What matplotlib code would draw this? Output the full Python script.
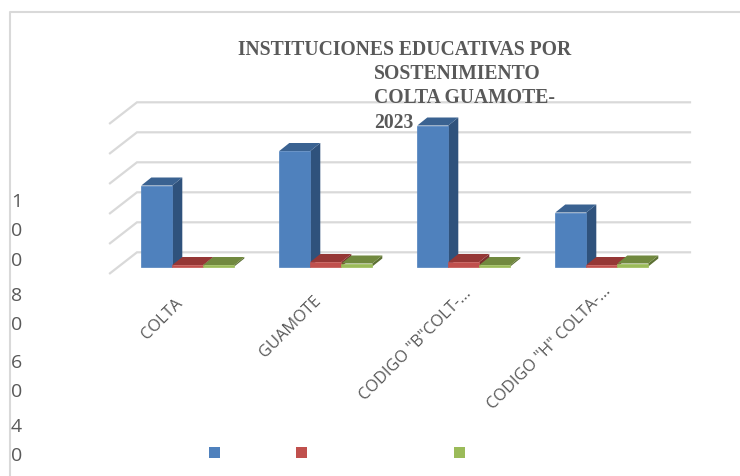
import matplotlib.pyplot as plt
from matplotlib.patches import Polygon, Rectangle
from matplotlib.lines import Line2D

W, H = 740, 477

categories = ['COLTA', 'GUAMOTE', 'CODIGO "B"COLT-...', 'CODIGO "H" COLTA-...']
serie_azul = [54, 77, 94, 36]
serie_roja = [1, 3, 3, 1]
serie_verde = [1, 2, 1, 2]
grid_values = [0, 20, 40, 60, 80, 100]
titulo = ['INSTITUCIONES EDUCATIVAS POR', 'SOSTENIMIENTO', 'COLTA GUAMOTE-', '2023']
# y axis labels are wrapped one digit per line in the original
eje_y = ['1', '0', '0', '8', '0', '6', '0', '4', '0']
eje_y_pos = [202, 231, 261, 296, 325, 363, 392, 427, 456]

colores = [('#4F81BD', '#3A6291', '#2F527C'),
           ('#C0504D', '#953735', '#7A2F2D'),
           ('#9BBB59', '#71893F', '#5C7033')]

# scale: 138 px per group, 30 px per 20 units, baseline at y=267.5
px_x = 1 / 138
px_y = 20 / 30
x0 = 187.8
y0 = 267.5
ancho = 31 * px_x

fig = plt.figure(figsize=(W / 100, H / 100), dpi=100)
ax = fig.add_axes([0, 0, 1, 1])
ax.set_xlim(-x0 * px_x, (W - x0) * px_x)
ax.set_ylim(-(H - y0) * px_y, y0 * px_y)
ax.axis('off')

# frame
ax.add_line(Line2D([10 / W, 10 / W, 1], [0, 1 - 13 / H, 1 - 13 / H], transform=ax.transAxes,
                   color='#D9D9D9', lw=1.5))

# gridlines, back wall and floor edge
fx = 27 * px_x
fy = 21 * px_y
off_y = -6.8 * px_y   # bars sit inside the floor depth
xa = (110 - x0) * px_x
xr = (690 - x0) * px_x
for v in grid_values:
    ya = v + off_y
    ax.plot([xa, xa + fx, xr], [ya, ya + fy, ya + fy], color='#D9D9D9', lw=1.6, zorder=1,
            solid_joinstyle='miter')

dx = 10 * px_x
dy = 8 * px_y


def barra(x, v, cols):
    front, top, side = cols
    ax.add_patch(Polygon([(x + ancho, 0), (x + ancho + dx, dy), (x + ancho + dx, v + dy), (x + ancho, v)],
                         fc=side, ec='none', zorder=3))
    ax.add_patch(Polygon([(x, v), (x + dx, v + dy), (x + ancho + dx, v + dy), (x + ancho, v)],
                         fc=top, ec='none', zorder=3))
    ax.bar(x, v, ancho, align='edge', color=front, edgecolor=front, lw=0.5, zorder=3)


for i in range(len(categories)):
    for j, serie in enumerate([serie_azul, serie_roja, serie_verde]):
        barra(i - 46.5 * px_x + j * ancho, serie[i], colores[j])

# category labels, rotated
fin_x = [175, 313, 463, 603]
fin_y = [295, 293, 286, 283]
for c, a, b in zip(categories, fin_x, fin_y):
    ax.text(a / W, 1 - b / H, c, transform=ax.transAxes, rotation=45, rotation_mode='anchor',
            ha='right', va='top', fontsize=11.8, family='Open Sans', color='#595959')

for d, y in zip(eje_y, eje_y_pos):
    ax.text(11 / W, 1 - y / H, d, transform=ax.transAxes, ha='left', va='center',
            fontsize=14, family='Open Sans', color='#595959')

# title
tx = [238, 374, 374, 374]
ty = [50, 74, 98, 123]
for t, a, b in zip(titulo, tx, ty):
    ax.text(a / W, 1 - b / H, t, transform=ax.transAxes, ha='left', va='center', fontsize=14.1,
            family='Liberation Serif', weight='bold', color='#595959', zorder=5)

# legend keys, their text is missing in the original
for a, c in zip([209, 296, 454], colores):
    ax.add_patch(Rectangle((a / W, 1 - 459 / H), 11 / W, 11 / H, transform=ax.transAxes,
                           fc=c[0], ec='none'))

fig.savefig('out.png', dpi=100)
